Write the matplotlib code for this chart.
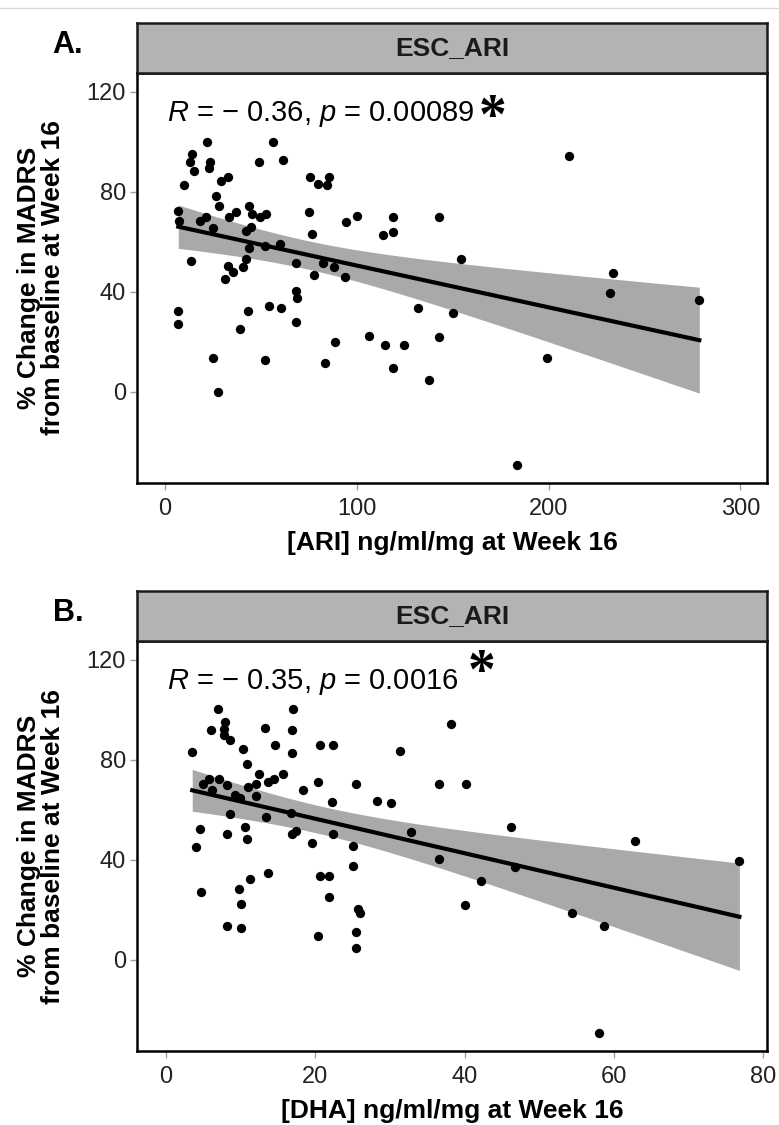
import numpy as np
import matplotlib
matplotlib.use("Agg")
import matplotlib.pyplot as plt
from matplotlib.lines import Line2D

plt.rcParams['font.family'] = ['Liberation Sans', 'DejaVu Sans']
plt.rcParams['mathtext.fontset'] = 'custom'
plt.rcParams['mathtext.it'] = 'Liberation Sans:italic'
plt.rcParams['mathtext.rm'] = 'Liberation Sans'

# Panel A: [ARI] concentration vs % change in MADRS
ari_conc = [21.7, 56.1, 13.9, 13.2, 15.2, 23.5, 23.2, 49.2, 61.4, 10.0,
            29.0, 33.0, 75.6, 79.8, 85.7, 84.6, 26.6, 28.3, 6.9, 7.3,
            18.2, 21.5, 24.9, 33.5, 37.2, 44.0, 45.2, 49.5, 52.8, 42.0,
            45.0, 44.0, 52.3, 60.2, 75.2, 76.5, 94.4, 100.3, 119.0, 113.5,
            119.0, 143.0, 13.6, 33.0, 35.6, 31.5, 40.8, 42.2, 68.3, 77.5,
            82.5, 88.3, 93.8, 68.3, 68.6, 6.9, 6.9, 43.4, 39.1, 54.4,
            60.3, 68.1, 88.8, 106.5, 114.7, 124.6, 142.9, 25.2, 52.1, 83.4,
            118.7, 137.8, 27.8, 132.1, 150.2, 210.6, 154.2, 233.4, 232.0, 278.6,
            199.0, 183.7]
ari_madrs = [100.0, 100.0, 95.1, 92.0, 88.2, 92.0, 89.4, 92.0, 92.8, 82.8,
             84.4, 85.9, 85.8, 83.3, 85.8, 82.7, 78.3, 74.3, 72.2, 68.2,
             68.2, 70.0, 65.7, 69.9, 72.0, 74.5, 71.2, 70.0, 71.0, 64.4,
             65.9, 57.4, 58.3, 59.1, 72.0, 63.1, 67.8, 70.4, 70.0, 62.7,
             63.8, 70.0, 52.2, 50.4, 48.0, 45.0, 50.0, 53.2, 51.4, 46.7,
             51.4, 50.0, 45.8, 40.4, 37.6, 32.4, 27.1, 32.4, 25.1, 34.4,
             33.4, 28.0, 20.0, 22.4, 18.7, 18.7, 21.8, 13.6, 12.7, 11.4,
             9.4, 4.7, 0.0, 33.4, 31.6, 94.3, 53.0, 47.6, 39.4, 36.7,
             13.4, -29.3]

# Panel B: [DHA] concentration vs % change in MADRS
dha_conc = [7.0, 17.0, 7.9, 6.0, 7.7, 7.7, 8.5, 13.2, 16.8, 16.8,
            3.5, 10.3, 14.6, 20.6, 22.4, 31.3, 38.2, 10.9, 12.4, 15.6,
            13.7, 14.5, 12.0, 11.0, 5.8, 7.1, 4.9, 6.1, 8.1, 12.0,
            9.2, 9.9, 18.3, 20.3, 25.5, 22.2, 28.3, 30.1, 36.5, 8.5,
            13.4, 16.7, 4.6, 8.1, 10.6, 10.9, 4.0, 16.8, 17.4, 19.6,
            22.3, 25.1, 32.8, 36.6, 25.1, 13.6, 11.2, 20.6, 21.8, 4.7,
            9.7, 10.0, 21.8, 25.7, 26.0, 8.1, 10.0, 20.4, 25.4, 25.4,
            40.2, 46.2, 62.8, 76.8, 46.7, 42.2, 40.1, 54.4, 58.6, 58.0]
dha_madrs = [100.3, 100.3, 95.1, 92.0, 92.2, 89.8, 88.0, 92.8, 92.0, 82.7,
             83.0, 84.5, 86.0, 86.0, 86.0, 83.6, 94.4, 78.3, 74.3, 74.5,
             71.0, 72.3, 70.4, 69.2, 72.4, 72.2, 70.2, 68.1, 70.0, 65.7,
             65.8, 64.7, 67.8, 71.0, 70.3, 63.1, 63.7, 62.7, 70.4, 58.4,
             57.3, 58.9, 52.3, 50.3, 53.1, 48.3, 45.0, 50.4, 51.5, 46.7,
             50.3, 45.6, 51.3, 40.3, 37.7, 34.7, 32.3, 33.6, 33.6, 27.1,
             28.3, 22.4, 25.1, 20.3, 18.7, 13.6, 12.7, 9.6, 11.3, 4.7,
             70.3, 53.1, 47.6, 39.6, 37.1, 31.7, 22.0, 18.7, 13.6, -29.3]

ari_stat = r"$R$ = $-$ 0.36, $p$ = 0.00089"
dha_stat = r"$R$ = $-$ 0.35, $p$ = 0.0016"
strip_label = "ESC_ARI"
ylabel = "% Change in MADRS\nfrom baseline at Week 16"


def lm_band(x, y, t_crit=1.99, n=100):
    # linear fit with 95% confidence band, like geom_smooth(method='lm')
    x = np.asarray(x, float)
    y = np.asarray(y, float)
    slope, icpt = np.polyfit(x, y, 1)
    xs = np.linspace(x.min(), x.max(), n)
    fit = icpt + slope * xs
    resid = y - (icpt + slope * x)
    s = np.sqrt((resid ** 2).sum() / (len(x) - 2))
    se = s * np.sqrt(1 / len(x) + (xs - x.mean()) ** 2 / ((x - x.mean()) ** 2).sum())
    return xs, fit, fit - t_crit * se, fit + t_crit * se


W, H = 779, 1125
fig = plt.figure(figsize=(W / 100, H / 100), dpi=100)
fig.add_artist(Line2D([0, 1], [1 - 8 / H, 1 - 8 / H], color='#d9d9d9', lw=1))


def draw_panel(top, x, y, xlim, xticks, xlabel, stat, stat_x, star_xy, letter):
    left, width = 137 / W, 630 / W
    ax = fig.add_axes([left, 1 - (top + 410) / H, width, 410 / H])
    strip = fig.add_axes([left, 1 - top / H, width, 50 / H])

    xs, fit, lo, hi = lm_band(x, y)
    ax.fill_between(xs, lo, hi, color='#a9a9a9', lw=0, zorder=1)
    ax.scatter(x, y, s=45, color='black', lw=0, zorder=2)
    ax.plot(xs, fit, color='black', lw=3, zorder=3)

    ax.set_xlim(xlim)
    ax.set_ylim(-36.5, 127.5)
    ax.set_xticks(xticks)
    ax.set_yticks([0, 40, 80, 120])
    ax.tick_params(length=5, width=1, color='#a0a0a0', labelsize=17,
                   labelcolor='#222222', pad=3)
    ax.tick_params(axis='x', pad=6)
    for sp in ax.spines.values():
        sp.set_linewidth(1.8)
        sp.set_color('black')
    ax.set_xlabel(xlabel, fontsize=19, fontweight='bold', labelpad=8)

    ax.text(stat_x, 111, stat, fontsize=21, va='center', ha='left')
    ax.text(star_xy[0], star_xy[1], '*', fontsize=40, fontweight='bold',
            family='Liberation Serif', ha='center', va='center')

    strip.set_facecolor('#b3b3b3')
    strip.set_xticks([])
    strip.set_yticks([])
    for sp in strip.spines.values():
        sp.set_linewidth(1.8)
        sp.set_color('#1a1a1a')
    strip.text(0.5, 0.5, strip_label, transform=strip.transAxes, ha='center',
               va='center', fontsize=19, fontweight='bold', color='#1a1a1a')

    ymid = 1 - (top + 205) / H
    fig.text(41 / W, ymid, ylabel, rotation=90, ha='center', va='center',
             fontsize=19, fontweight='bold', linespacing=1.05)
    fig.text(68 / W, 1 - (top - 28) / H, letter, ha='center', va='center',
             fontsize=22, fontweight='bold')
    return ax


draw_panel(73, ari_conc, ari_madrs, (-14.6, 313.9), [0, 100, 200, 300],
           "[ARI] ng/ml/mg at Week 16", ari_stat, 1.0, (171, 109), "A.")
draw_panel(641, dha_conc, dha_madrs, (-3.9, 80.5), [0, 20, 40, 60, 80],
           "[DHA] ng/ml/mg at Week 16", dha_stat, 0.1, (42.3, 114.5), "B.")

fig.savefig("out.png", dpi=100)
